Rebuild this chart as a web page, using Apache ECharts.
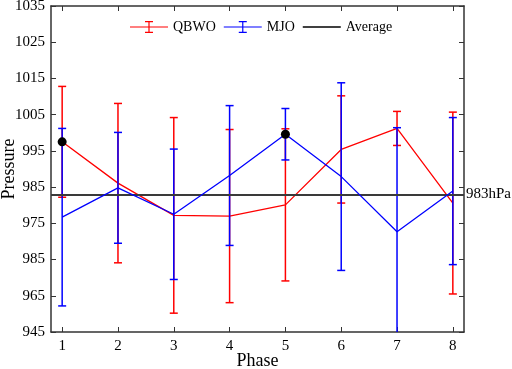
<!DOCTYPE html>
<html>
<head>
<meta charset="utf-8">
<script src="https://cdn.jsdelivr.net/npm/echarts@6/dist/echarts.min.js"></script>
<style>html,body{margin:0;padding:0;background:#fff}#c{width:512px;height:369px}</style>
</head>
<body>
<div id="c"></div>
<script>
const phases = [1, 2, 3, 4, 5, 6, 7, 8];
const qbwoMean = [997.5, 986.1, 977.2, 977.0, 980.1, 995.4, 1001.2, 980.6];
const qbwoErr  = [15.3, 22.0, 27.0, 23.9, 21.0, 14.8, 4.7, 25.1];
const mjoMean  = [976.7, 984.8, 977.5, 988.2, 999.6, 987.9, 972.7, 983.9];
const mjoErr   = [24.5, 15.3, 18.0, 19.3, 7.1, 25.9, 28.7, 20.3];
const averageValue = 983;
const averageLabel = '983hPa';
const qbwoMarkIdx = [0];
const mjoMarkIdx = [4];
const yTickValues = [945, 955, 965, 975, 985, 995, 1005, 1015, 1025, 1035];
const yTickLabels = ['945', '965', '985', '975', '985', '995', '1005', '1015', '1025', '1035'];

const FONT = '"Liberation Serif", "Times New Roman", serif';
const AX = '#333333';

function errRender(color) {
  return function (params, api) {
    const x = api.value(0), m = api.value(1), e = api.value(2);
    const top = api.coord([x, m + e]);
    const bot = api.coord([x, m - e]);
    const cs = params.coordSys;
    const yMin = cs.y, yMax = cs.y + cs.height;
    const t = Math.max(top[1], yMin), b = Math.min(bot[1], yMax);
    const st = { stroke: color, lineWidth: 1.5 };
    const w = 4;
    const ch = [{ type: 'line', shape: { x1: top[0], y1: t, x2: top[0], y2: b }, style: st }];
    if (top[1] >= yMin) ch.push({ type: 'line', shape: { x1: top[0] - w, y1: top[1], x2: top[0] + w, y2: top[1] }, style: st });
    if (bot[1] <= yMax) ch.push({ type: 'line', shape: { x1: bot[0] - w, y1: bot[1], x2: bot[0] + w, y2: bot[1] }, style: st });
    return { type: 'group', children: ch };
  };
}

const errIcon = 'path://M0,6.4H38V7.6H0Z M18.4,1H19.6V13H18.4Z M15,1H23V2.2H15Z M15,11.8H23V13H15Z';
const lineIcon = 'path://M0,6.3H38V7.7H0Z';

const chart = echarts.init(document.getElementById('c'), null, { renderer: 'canvas' });
chart.setOption({
  animation: false,
  backgroundColor: '#fff',
  textStyle: { fontFamily: FONT },
  grid: { left: 51, right: 48, top: 6, bottom: 37, containLabel: false, outerBoundsMode: 'none' },
  legend: {
    left: 130, top: 20, padding: 0,
    itemWidth: 38, itemHeight: 14, itemGap: 8, itemTextGap: 3,
    textStyle: { fontFamily: FONT, fontSize: 14, color: '#000' },
    data: [
      { name: 'QBWO', icon: errIcon, itemStyle: { color: '#ff0000' } },
      { name: 'MJO', icon: errIcon, itemStyle: { color: '#0000ff' } },
      { name: 'Average', icon: lineIcon, itemStyle: { color: '#000' } }
    ]
  },
  xAxis: [
    {
      type: 'value', position: 'bottom', min: 0.8, max: 8.2,
      name: 'Phase', nameLocation: 'middle', nameGap: 20, nameMoveOverlap: false,
      nameTextStyle: { fontFamily: FONT, fontSize: 18, color: '#000' },
      axisLine: { show: true, lineStyle: { color: AX, width: 1.5 } },
      axisTick: { show: true, inside: true, length: 5, customValues: phases, lineStyle: { color: AX } },
      axisLabel: { customValues: phases, fontFamily: FONT, fontSize: 15, color: '#000', margin: 7 },
      splitLine: { show: false }
    },
    {
      type: 'value', position: 'top', min: 0.8, max: 8.2,
      axisLine: { show: true, lineStyle: { color: AX, width: 1.5 } },
      axisTick: { show: true, inside: true, length: 5, customValues: phases, lineStyle: { color: AX } },
      axisLabel: { show: false },
      splitLine: { show: false }
    }
  ],
  yAxis: [
    {
      type: 'value', position: 'left', min: 945, max: 1035,
      name: 'Pressure', nameLocation: 'middle', nameGap: 33, nameMoveOverlap: false,
      nameTextStyle: { fontFamily: FONT, fontSize: 18, color: '#000' },
      axisLine: { show: true, lineStyle: { color: AX, width: 1.5 } },
      axisTick: { show: true, inside: true, length: 5, customValues: yTickValues, lineStyle: { color: AX } },
      axisLabel: {
        customValues: yTickValues, fontFamily: FONT, fontSize: 15, color: '#000', margin: 6,
        formatter: function (v) { const i = yTickValues.indexOf(v); return i >= 0 ? yTickLabels[i] : ''; }
      },
      splitLine: { show: false }
    },
    {
      type: 'value', position: 'right', min: 945, max: 1035,
      axisLine: { show: true, lineStyle: { color: AX, width: 1.5 } },
      axisTick: { show: true, inside: true, length: 5, customValues: yTickValues, lineStyle: { color: AX } },
      axisLabel: { show: false },
      splitLine: { show: false }
    }
  ],
  series: [
    {
      name: 'QBWO', type: 'custom', xAxisIndex: 0, yAxisIndex: 0,
      renderItem: errRender('#ff0000'),
      encode: { x: 0, y: 1 },
      data: phases.map((p, i) => [p, qbwoMean[i], qbwoErr[i]]),
      z: 2
    },
    {
      name: 'QBWO', type: 'line', xAxisIndex: 0, yAxisIndex: 0,
      data: phases.map((p, i) => [p, qbwoMean[i]]),
      showSymbol: false, symbol: 'none',
      lineStyle: { color: '#ff0000', width: 1.3 }, itemStyle: { color: '#ff0000' },
      z: 3
    },
    {
      name: 'MJO', type: 'custom', xAxisIndex: 0, yAxisIndex: 0,
      renderItem: errRender('#0000ff'),
      encode: { x: 0, y: 1 },
      data: phases.map((p, i) => [p, mjoMean[i], mjoErr[i]]),
      z: 4
    },
    {
      name: 'MJO', type: 'line', xAxisIndex: 0, yAxisIndex: 0,
      data: phases.map((p, i) => [p, mjoMean[i]]),
      showSymbol: false, symbol: 'none',
      lineStyle: { color: '#0000ff', width: 1.3 }, itemStyle: { color: '#0000ff' },
      z: 5
    },
    {
      name: 'Average', type: 'line', xAxisIndex: 0, yAxisIndex: 0,
      data: [],
      itemStyle: { color: '#000' },
      markLine: {
        silent: true, symbol: ['none', 'none'],
        lineStyle: { color: '#3a3a3a', width: 2, type: 'solid' },
        label: { show: true, position: 'end', formatter: averageLabel, fontFamily: FONT, fontSize: 15, color: '#000', distance: 2 },
        data: [{ yAxis: averageValue }]
      },
      z: 6
    },
    {
      name: 'marks', type: 'scatter', xAxisIndex: 0, yAxisIndex: 0,
      data: qbwoMarkIdx.map(i => [phases[i], qbwoMean[i]]).concat(mjoMarkIdx.map(i => [phases[i], mjoMean[i]])),
      symbol: 'circle', symbolSize: 9, itemStyle: { color: '#000', opacity: 1 },
      z: 10
    }
  ]
});
</script>
</body>
</html>
